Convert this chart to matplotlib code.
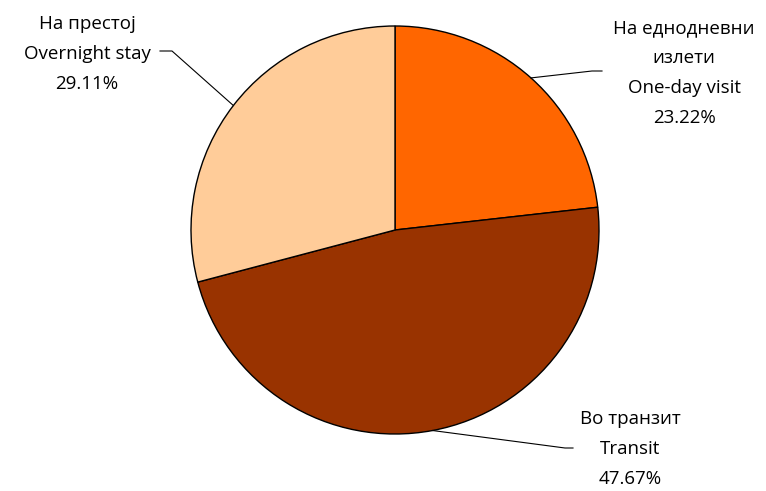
import numpy as np
import matplotlib
matplotlib.use("Agg")
import matplotlib.pyplot as plt

labels = ["На еднодневни\nизлети\nOne-day visit", "Во транзит\nTransit", "На престој\nOvernight stay"]
values = [23.22, 47.67, 29.11]
colors = ["#FF6600", "#993300", "#FFCC99"]

W, H = 766, 491
fig = plt.figure(figsize=(W / 100, H / 100), dpi=100)
cx, cy, r = 395, 230, 204
ax = fig.add_axes([(cx - r) / W, (H - cy - r) / H, 2 * r / W, 2 * r / H])
ax.set_aspect("equal")
ax.axis("off")

wedges, _ = ax.pie(values, colors=colors, startangle=90, counterclock=False,
                   radius=1, wedgeprops=dict(edgecolor="black", linewidth=1.0),
                   frame=False)
ax.set_xlim(-1, 1)
ax.set_ylim(-1, 1)


def d(px, py):
    return ((px - cx) / r, (cy - py) / r)


# label layout: (elbow, line end, text center) in pixel coords
layout = [
    ((592, 71), (602, 71), (684, 73)),
    ((565, 448), (573, 448), (630, 449)),
    ((172, 51), (160, 51), (87, 54)),
]
for w, lab, v, (elb, end, tc) in zip(wedges, labels, values, layout):
    ang = np.deg2rad((w.theta1 + w.theta2) / 2)
    p = (np.cos(ang), np.sin(ang))
    e, n, t = d(*elb), d(*end), d(*tc)
    ax.plot([p[0], e[0], n[0]], [p[1], e[1], n[1]], color="black",
            lw=0.8, clip_on=False)
    ax.text(t[0], t[1], f"{lab}\n{v:.2f}%", ha="center", va="center",
            fontsize=13.5, family=["Open Sans", "DejaVu Sans"], linespacing=1.85,
            clip_on=False)

fig.savefig("out.png", dpi=100)
